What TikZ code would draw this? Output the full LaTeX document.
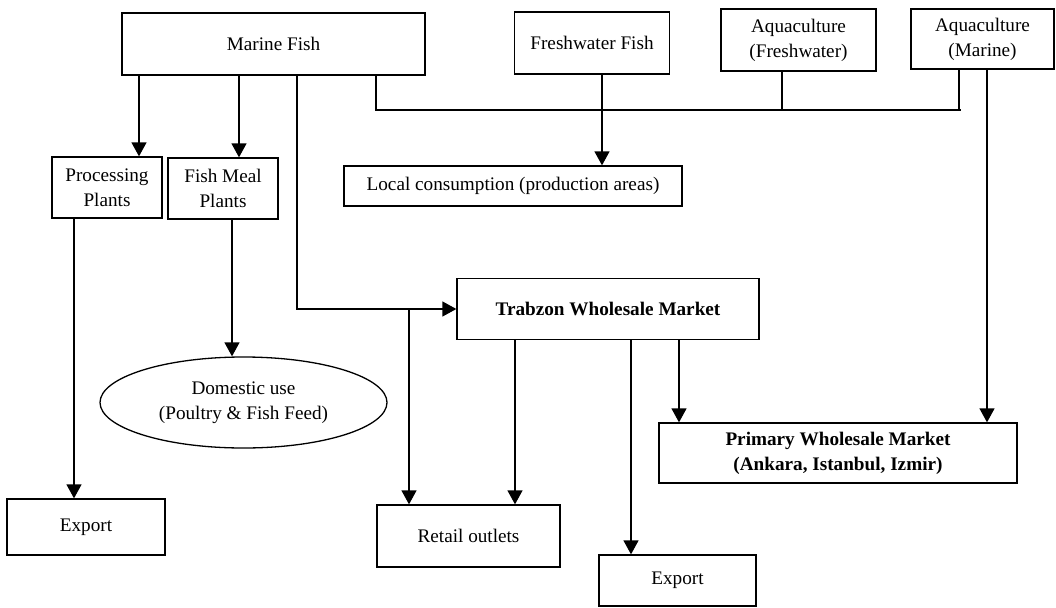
\documentclass[tikz,border=0pt]{standalone}
\usepackage{fontspec}
\setmainfont{Liberation Serif}
\usetikzlibrary{arrows.meta,shapes.geometric}
\tikzset{
  box/.style={draw, line width=1.3pt, inner sep=0pt, align=center, font=\fontsize{19.2}{25}\selectfont},
  oval/.style={box, ellipse},
  arr/.style={line width=1.3pt, -{Triangle[width=15pt,length=14pt]}},
  ln/.style={line width=1.3pt},
}
\begin{document}
\begin{tikzpicture}[x=1pt,y=-1pt]
\useasboundingbox (0,0) rectangle (1056,607);
% nodes
\node[box, minimum width=303pt, minimum height=62pt] (mf) at (273.5,44) {Marine Fish};
\node[box, minimum width=155pt, minimum height=62pt] (ff) at (592,43) {Freshwater Fish};
\node[box, minimum width=155pt, minimum height=62pt] (afw) at (798.5,40) {Aquaculture\\(Freshwater)};
\node[box, minimum width=143pt, minimum height=60pt] (am) at (982.5,39) {Aquaculture\\(Marine)};
\node[box, minimum width=110pt, minimum height=61pt] (pp) at (107,187.5) {Processing\\Plants};
\node[box, minimum width=110pt, minimum height=61pt] (fm) at (223,188.5) {Fish Meal\\Plants};
\node[box, minimum width=338pt, minimum height=40pt] (lc) at (513,186) {Local consumption (production areas)};
\node[box, minimum width=302pt, minimum height=61pt] (tw) at (608,309) {\bfseries Trabzon Wholesale Market};
\node[oval, minimum width=287pt, minimum height=91pt] (du) at (243.5,402.5) {Domestic use\\(Poultry \& Fish Feed)};
\node[box, minimum width=358pt, minimum height=60pt] (pwm) at (838,453) {\bfseries Primary Wholesale Market\\\bfseries (Ankara, Istanbul, Izmir)};
\node[box, minimum width=158pt, minimum height=56pt] (ex1) at (86,527) {Export};
\node[box, minimum width=183pt, minimum height=62pt] (ro) at (468.5,536) {Retail outlets};
\node[box, minimum width=157pt, minimum height=51pt] (ex2) at (677.5,580.5) {Export};
% x positions of connectors
\coordinate (xA) at (139,0);
\coordinate (xB) at (239,0);
\coordinate (xC) at (297,0);
\coordinate (xD) at (376,0);
\coordinate (xE) at (602,0);
\coordinate (xF) at (782,0);
\coordinate (xG) at (959,0);
\coordinate (xGe) at (961,110);
\coordinate (xH) at (987,0);
\coordinate (xI) at (74,0);
\coordinate (xJ) at (232,0);
\coordinate (xK) at (409,0);
\coordinate (xL) at (515,0);
\coordinate (xM) at (631,0);
\coordinate (xN) at (679,0);
% connectors
\draw[arr] (xA |- mf.south) -- (xA |- pp.north);
\draw[arr] (xB |- mf.south) -- (xB |- fm.north);
\draw[arr] (xC |- mf.south) -- (xC |- tw.west) -- (tw.west);
\draw[ln] (xD |- mf.south) -- (xD |- xGe) -- (xGe);
\draw[ln] (xF |- afw.south) -- (xF |- xGe);
\draw[ln] (xG |- am.south) -- (xG |- xGe);
\draw[arr] (xE |- ff.south) -- (xE |- lc.north);
\draw[arr] (xI |- pp.south) -- (xI |- ex1.north);
\draw[arr] (xJ |- fm.south) -- (xJ |- du.north);
\draw[arr] (xK |- tw.west) -- (xK |- ro.north);
\draw[arr] (xL |- tw.south) -- (xL |- ro.north);
\draw[arr] (xM |- tw.south) -- (xM |- ex2.north);
\draw[arr] (xN |- tw.south) -- (xN |- pwm.north);
\draw[arr] (xH |- am.south) -- (xH |- pwm.north);
\end{tikzpicture}
\end{document}
